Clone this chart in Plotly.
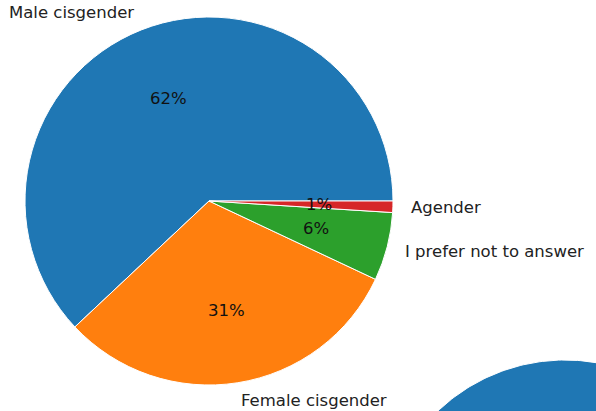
import math
import plotly.graph_objects as go

labels = ["Male cisgender", "Female cisgender", "I prefer not to answer", "Agender"]
values = [62, 31, 6, 1]
colors = ["#1f77b4", "#ff7f0e", "#2ca02c", "#d62728"]

W, H = 596, 411
CX, CY, R = 209, 201, 184          # main pie centre / radius in px
CX2, CY2 = 565, 544                # second (clipped) pie centre in px
FONT = "DejaVu Sans"
FS = 16.5

total = sum(values)
# matplotlib-like: first slice starts at 3 o'clock and goes counterclockwise.
# plotly (counterclockwise) places first slice ending at `rotation` (cw from 12 o'clock)
rot = 90 - values[0] / total * 360

fig = go.Figure()
fig.add_trace(go.Pie(
    labels=labels, values=values, sort=False,
    direction="counterclockwise", rotation=rot,
    marker=dict(colors=colors, line=dict(color="white", width=1)),
    textinfo="none", hoverinfo="label+percent", showlegend=False,
    domain=dict(x=[(CX - R) / W, (CX + R) / W], y=[1 - (CY + R) / H, 1 - (CY - R) / H]),
))

annotations = []
cum = 0.0
for lab, v in zip(labels, values):
    a0 = cum / total * 360
    cum += v
    a1 = cum / total * 360
    mid = math.radians((a0 + a1) / 2)
    lx = CX + 1.1 * R * math.cos(mid)
    ly = CY - 1.1 * R * math.sin(mid)
    annotations.append(dict(
        x=lx / W, y=1 - ly / H, xref="paper", yref="paper",
        text=lab, showarrow=False, borderpad=0, borderwidth=0,
        xanchor="left" if math.cos(mid) > 0 else "right", yanchor="middle",
        font=dict(family=FONT, size=FS, color="#222"),
    ))
    px = CX + 0.6 * R * math.cos(mid)
    py = CY - 0.6 * R * math.sin(mid)
    annotations.append(dict(
        x=px / W, y=1 - py / H, xref="paper", yref="paper",
        text=f"{v / total * 100:.0f}%", showarrow=False, borderpad=0, borderwidth=0,
        xanchor="center", yanchor="middle",
        font=dict(family=FONT, size=FS, color="#111"),
    ))

# second pie, partially off-canvas, drawn as wedge polygons on a pixel-scaled axis
cum = 0.0
for lab, v, c in zip(labels, values, colors):
    a0 = cum / total * 360
    cum += v
    a1 = cum / total * 360
    n = max(4, int(a1 - a0))
    xs, ys = [CX2], [CY2]
    for i in range(n + 1):
        t = math.radians(a0 + (a1 - a0) * i / n)
        xs.append(CX2 + R * math.cos(t))
        ys.append(CY2 - R * math.sin(t))
    xs.append(CX2); ys.append(CY2)
    fig.add_trace(go.Scatter(
        x=xs, y=ys, xaxis="x", yaxis="y", mode="lines", fill="toself",
        fillcolor=c, line=dict(color="white", width=1), hoverinfo="skip",
        showlegend=False, cliponaxis=True,
    ))

fig.update_layout(
    width=W, height=H, margin=dict(l=0, r=0, t=0, b=0),
    paper_bgcolor="white", plot_bgcolor="rgba(0,0,0,0)",
    xaxis=dict(range=[0, W], visible=False, fixedrange=True),
    yaxis=dict(range=[H, 0], visible=False, fixedrange=True),
    annotations=annotations,
)
fig.write_html("out.html", config={"displayModeBar": False},
               post_script="document.body.style.margin='0';document.body.style.overflow='hidden';")
